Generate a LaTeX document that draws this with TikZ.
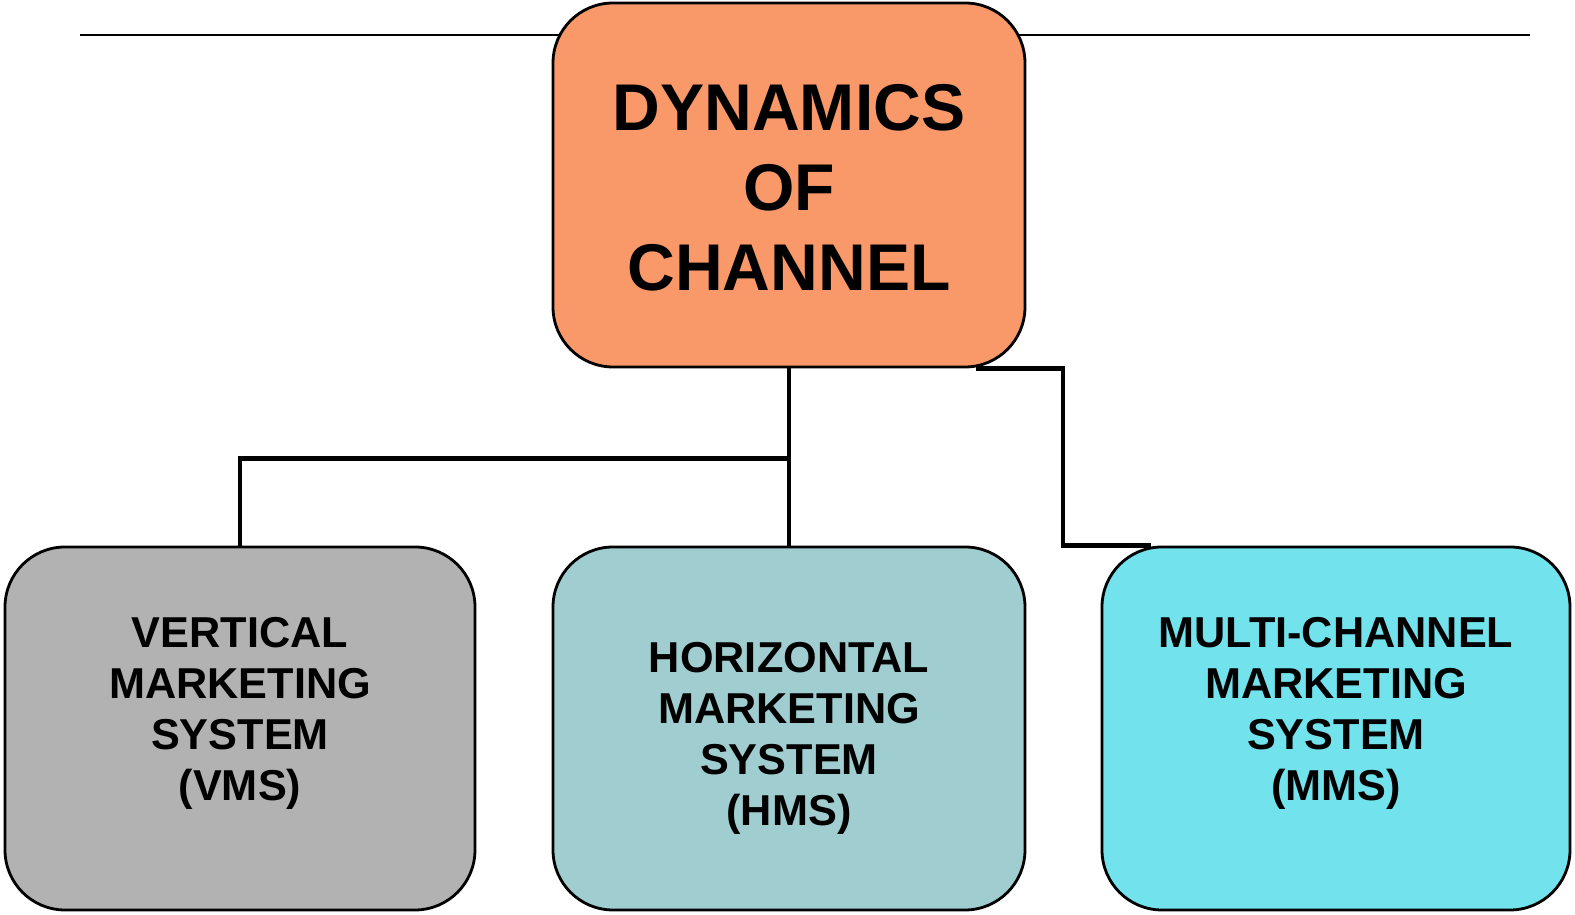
\documentclass[tikz,border=0pt]{standalone}
\usepackage{fontspec}
\setmainfont{Liberation Sans}
\definecolor{headorange}{RGB}{249,153,106}
\definecolor{vmsgray}{RGB}{178,178,178}
\definecolor{hmsteal}{RGB}{160,206,208}
\definecolor{mmscyan}{RGB}{114,227,237}
\tikzset{
  sysbox/.style={draw=black, line width=0.8pt, rounded corners=0.6cm,
    minimum width=4.7cm, minimum height=3.63cm, inner sep=0pt},
  headtext/.style={font=\fontsize{18.8}{22.8}\selectfont\bfseries, align=center},
  boxtext/.style={font=\fontsize{12.3}{14.5}\selectfont\bfseries, align=center},
  link/.style={line width=1.2pt}
}
\begin{document}
\begin{tikzpicture}
\useasboundingbox (0,0) rectangle (15.75,9.15);
% rule across the top
\draw[line width=0.8pt] (0.8,8.8) -- (15.3,8.8);
% heading box
\node[sysbox, fill=headorange, minimum width=4.72cm, minimum height=3.64cm] (head) at (7.89,7.3) {};
\node[headtext] (headtxt) at ([yshift=-0.3mm]head.center) {DYNAMICS\\OF\\CHANNEL};
% the three systems
\node[sysbox, fill=vmsgray] (vms) at (2.4,1.865) {};
\node[boxtext] (vmstxt) at ([yshift=1.5mm]vms.center) {VERTICAL\\MARKETING\\SYSTEM\\(VMS)};
\node[sysbox, fill=hmsteal, minimum width=4.72cm] (hms) at (7.89,1.865) {};
\node[boxtext] (hmstxt) at ([yshift=-1mm]hms.center) {HORIZONTAL\\MARKETING\\SYSTEM\\(HMS)};
\node[sysbox, fill=mmscyan, minimum width=4.68cm] (mms) at (13.36,1.865) {};
\node[boxtext] (mmstxt) at ([yshift=1.5mm]mms.center) {MULTI-CHANNEL\\MARKETING\\SYSTEM\\(MMS)};
% connectors
\coordinate (split) at ([yshift=-0.9cm]head.south);
\coordinate (bend) at (10.63,0 |- mms.north);
\draw[link] (head.south) -- (hms.north);
\draw[link] (split) -| (vms.north);
\draw[link] ([xshift=-0.5cm]head.south east) -| (bend) -- ([xshift=0.5cm]mms.north west);
\end{tikzpicture}
\end{document}
